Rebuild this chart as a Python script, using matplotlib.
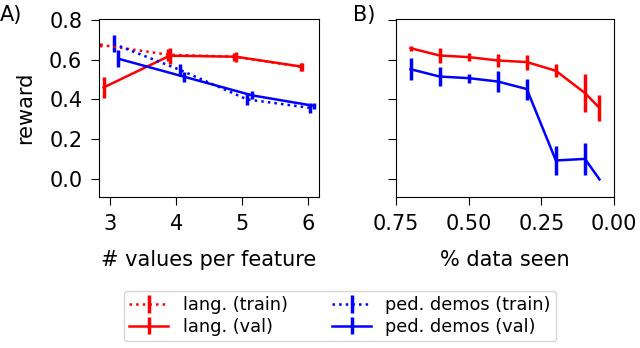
import matplotlib
matplotlib.use("Agg")
import matplotlib.pyplot as plt

# Panel A data
lang_train_x = [2.85, 3.88, 4.88, 5.88]
lang_train_y = [0.675, 0.625, 0.615, 0.565]
lang_train_err = [0.01, 0.03, 0.02, 0.02]
lang_val_x = [2.9, 3.9, 4.9, 5.9]
lang_val_y = [0.46, 0.62, 0.615, 0.565]
lang_val_err = [0.054, 0.04, 0.025, 0.02]
ped_train_x = [3.05, 4.06, 5.07, 6.03]
ped_train_y = [0.68, 0.548, 0.40, 0.357]
ped_train_err = [0.042, 0.03, 0.03, 0.025]
ped_val_x = [3.12, 4.12, 5.15, 6.09]
ped_val_y = [0.605, 0.514, 0.42, 0.367]
ped_val_err = [0.042, 0.025, 0.02, 0.017]

# Panel B data
frac_seen = [0.7, 0.6, 0.5, 0.4, 0.3, 0.2, 0.1, 0.05]
b_lang_y = [0.658, 0.621, 0.613, 0.596, 0.588, 0.544, 0.432, 0.357]
b_lang_err = [0.012, 0.04, 0.021, 0.032, 0.038, 0.033, 0.095, 0.067]
b_ped_y = [0.552, 0.515, 0.507, 0.49, 0.452, 0.092, 0.10, -0.003]
b_ped_err = [0.054, 0.048, 0.023, 0.054, 0.053, 0.074, 0.081, 0.0]

a_xticks = [3, 4, 5, 6]
b_xticks = [0.75, 0.50, 0.25, 0.00]
yticks = [0.0, 0.2, 0.4, 0.6, 0.8]

W, H = 640, 348
fig = plt.figure(figsize=(W / 100, H / 100), dpi=100)
axA = fig.add_axes([99 / W, 1 - 197 / H, 220 / W, 178 / H])
axB = fig.add_axes([396 / W, 1 - 197 / H, 218 / W, 178 / H], sharey=axA)

lw = 1.8
elw = 2.5
hA1 = axA.errorbar(lang_train_x, lang_train_y, yerr=lang_train_err, color='red', ls=':', lw=lw, elinewidth=elw, label='lang. (train)')
hA2 = axA.errorbar(lang_val_x, lang_val_y, yerr=lang_val_err, color='red', ls='-', lw=lw, elinewidth=elw, label='lang. (val)')
hA3 = axA.errorbar(ped_train_x, ped_train_y, yerr=ped_train_err, color='blue', ls=':', lw=lw, elinewidth=elw, label='ped. demos (train)')
hA4 = axA.errorbar(ped_val_x, ped_val_y, yerr=ped_val_err, color='blue', ls='-', lw=lw, elinewidth=elw, label='ped. demos (val)')

axB.errorbar(frac_seen, b_lang_y, yerr=b_lang_err, color='red', ls='-', lw=lw, elinewidth=elw)
axB.errorbar(frac_seen, b_ped_y, yerr=b_ped_err, color='blue', ls='-', lw=lw, elinewidth=elw)

fs = 15
axA.set_xlim(2.83, 6.16)
axA.set_ylim(-0.092, 0.805)
axA.set_xticks(a_xticks)
axA.set_yticks(yticks)
axA.set_yticklabels([f"{v:.1f}" for v in yticks])
axA.set_xlabel('# values per feature', fontsize=fs, labelpad=12)
axA.set_ylabel('reward', fontsize=fs, labelpad=10)
axA.tick_params(labelsize=fs, length=6, pad=6)

axB.set_xlim(0.75, 0.0)
axB.set_xticks(b_xticks)
axB.set_xticklabels([f"{v:.2f}" for v in b_xticks])
axB.set_xlabel('% data seen', fontsize=fs, labelpad=12)
axB.tick_params(labelsize=fs, labelleft=False, length=6, pad=6)

fig.text(0 / W, 1 - 15 / H, 'A)', fontsize=fs, va='center', ha='left')
fig.text(353 / W, 1 - 15 / H, 'B)', fontsize=fs, va='center', ha='left')

fig.legend(handles=[hA1, hA2, hA3, hA4], loc='center', ncol=2, fontsize=12.8,
           bbox_to_anchor=(340 / W, 1 - 316 / H), handlelength=2.2,
           columnspacing=2.5, borderpad=0.3, labelspacing=0.2)

fig.savefig('out.png', dpi=100)
